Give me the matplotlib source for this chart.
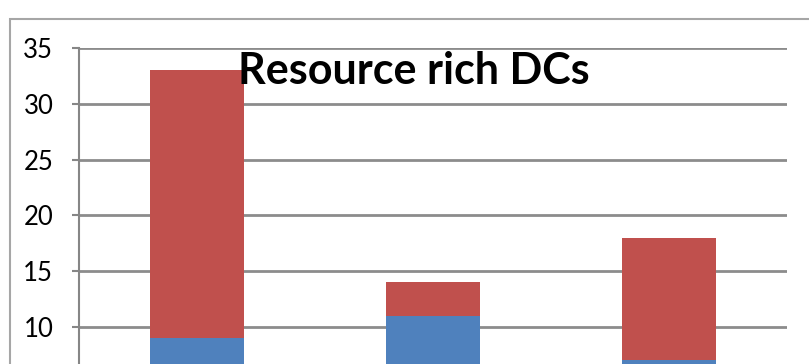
import numpy as np
import matplotlib.pyplot as plt
from matplotlib.patches import Rectangle

# datos
categorias = ["A", "B", "C"]
azul = [9, 11, 7]
rojo = [24, 3, 11]
ticks_y = [10, 15, 20, 25, 30, 35]
titulo = "Resource rich DCs"

W, H = 809, 364
fig = plt.figure(figsize=(W / 100, H / 100), dpi=100)

# marco exterior (el grafico esta recortado abajo y a la derecha)
fig.patches.append(Rectangle((10 / W, -0.1), 1.2, 1 - 19 / H + 0.1,
                             transform=fig.transFigure, fill=False,
                             edgecolor="#a6a6a6", linewidth=1.5))

# area de trazado: y=35 en px 48, y=0 en px 438.6
izq, der = 79, 787
arriba, abajo = 48, 48 + 35 * 11.16
ax = fig.add_axes([izq / W, 1 - abajo / H, (der - izq) / W, (abajo - arriba) / H])

x = np.arange(len(categorias))
ax.bar(x, azul, width=0.4, color="#4f81bd", zorder=3)
ax.bar(x, rojo, width=0.4, bottom=azul, color="#c0504d", zorder=3)

ax.set_xlim(-0.5, 2.5)
ax.set_ylim(0, 35)
ax.set_yticks(ticks_y)
ax.set_yticklabels([str(v) for v in ticks_y], fontsize=18.5, family="Lato")
ax.tick_params(axis="y", length=5, width=1.5, color="#868686", pad=13.5)
ax.set_xticks([])
ax.yaxis.grid(True, color="#8c8c8c", linewidth=2, zorder=0)
for s in ["top", "right", "bottom"]:
    ax.spines[s].set_visible(False)
ax.spines["left"].set_color("#868686")
ax.spines["left"].set_linewidth(1.5)

fig.text(414 / W, 1 - 71 / H, titulo, fontsize=31, fontweight="bold",
         family="Lato", ha="center", va="center")

fig.savefig("out.png", dpi=100)
